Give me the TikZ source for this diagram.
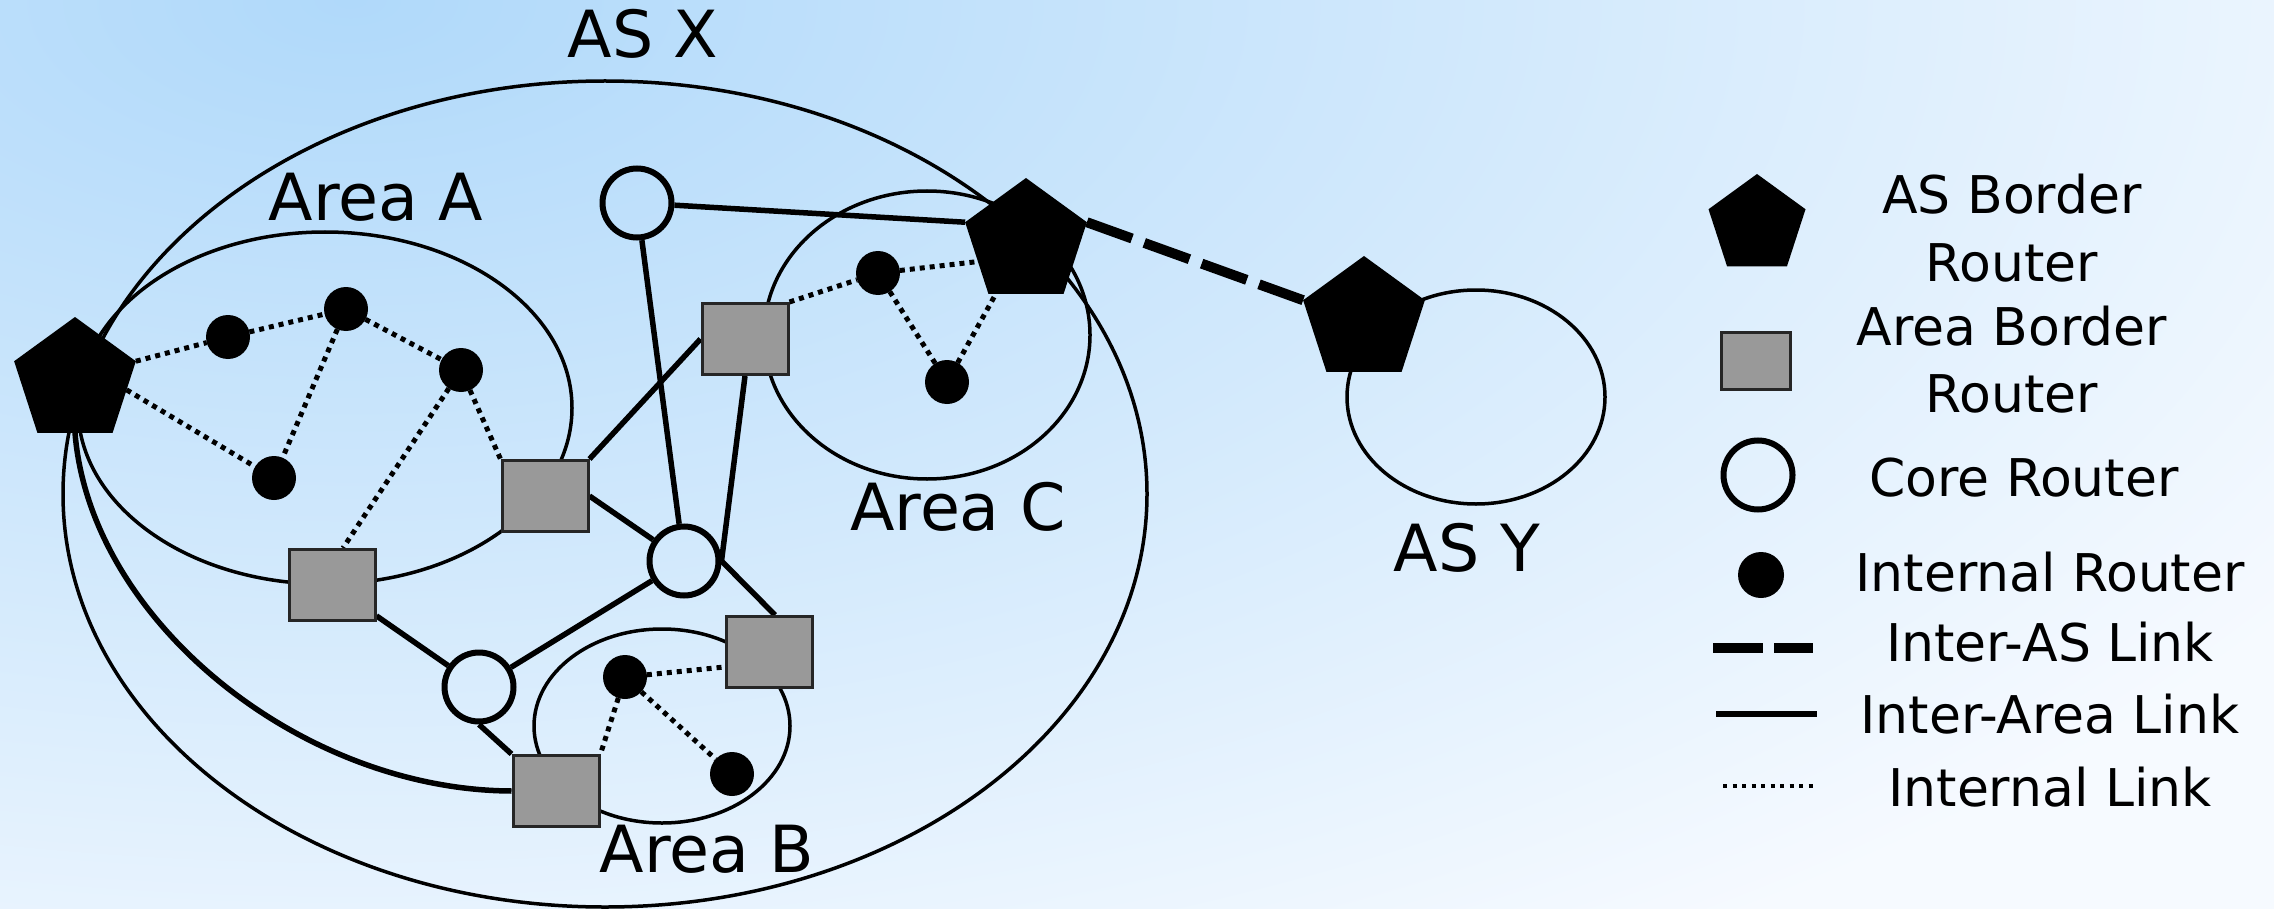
\documentclass[tikz,border=0pt]{standalone}
\usepackage{fontspec}
\setmainfont{DejaVu Sans}
\usetikzlibrary{shapes.geometric,calc}
\pgfdeclarelayer{back}
\pgfdeclarelayer{bg}
\pgfsetlayers{back,bg,main}
\definecolor{bgtop}{RGB}{176,217,250}
\definecolor{bgmid}{RGB}{210,233,252}
\definecolor{bgbot}{RGB}{246,250,255}
\definecolor{abrgray}{RGB}{153,153,153}
\pgfdeclareradialshading{bgrad}{\pgfpoint{0bp}{0bp}}{color(0bp)=(bgtop); color(12.5bp)=(bgmid); color(25bp)=(bgbot); color(50bp)=(bgbot)}
\tikzset{
  asbr/.style={regular polygon, regular polygon sides=5, fill=black, draw=none, inner sep=0pt, outer sep=0pt, minimum size=128pt},
  abr/.style={rectangle, fill=abrgray, draw=black!85, line width=3pt, minimum width=86pt, minimum height=71pt, inner sep=0pt},
  core/.style={circle, draw=black, line width=6pt, minimum size=69pt, inner sep=0pt},
  intr/.style={circle, fill=black, draw=none, minimum size=44pt, inner sep=0pt, outer sep=0pt},
  area/.style={line width=3.5pt, draw=black},
  interarea/.style={line width=5.5pt, draw=black},
  internal/.style={line width=5pt, draw=black, dash pattern=on 5pt off 5pt},
  interas/.style={line width=10pt, draw=black, dash pattern=on 48pt off 13pt},
  lbl/.style={font=\fontsize{65}{78}\selectfont, anchor=base, inner sep=0pt},
  leg/.style={font=\fontsize{52}{67}\selectfont, anchor=base, inner sep=0pt, align=center},
}
\begin{document}
\begin{tikzpicture}[x=1pt,y=-1pt]
\useasboundingbox (0,0) rectangle (2274,909);
\begin{pgfonlayer}{back}
\begin{scope}
\clip (0,0) rectangle (2274,909);
\fill[bgbot] (0,0) rectangle (2274,909);
\shade[shading=bgrad] (350,0) ellipse [x radius=2300pt, y radius=1150pt];
\end{scope}
\end{pgfonlayer}

% routers
\node[asbr] (P1) at (75,381) {};
\node[asbr] (P2) at (1026,242) {};
\node[asbr] (P3) at (1364,320) {};
\node[core] (C1) at (637,203) {};
\node[core] (C2) at (684,561) {};
\node[core] (C3) at (479,687) {};
\node[abr] (S1) at (545,496) {};
\node[abr] (S2) at (332,585) {};
\node[abr] (S3) at (745,339) {};
\node[abr] (S4) at (769,652) {};
\node[abr] (S5) at (556,791) {};
\node[intr] (a1) at (228,337) {};
\node[intr] (a2) at (346,309) {};
\node[intr] (a3) at (461,370) {};
\node[intr] (a4) at (274,478) {};
\node[intr] (c1) at (878,273) {};
\node[intr] (c2) at (947,382) {};
\node[intr] (b1) at (625,677) {};
\node[intr] (b2) at (732,774) {};

% labels
\node[lbl] (lasx) at (643,58) {AS X};
\node[lbl] (larea) at (376,221) {Area A};
\node[lbl] (larec) at (958,530) {Area C};
\node[lbl] (lareb) at (707,872) {Area B};
\node[lbl] (lasy) at (1467,571) {AS Y};

\begin{pgfonlayer}{bg}
\draw[area] (605,494) ellipse [x radius=542pt, y radius=413pt];
\draw[area] (325,408) ellipse [x radius=247pt, y radius=176pt];
\draw[area] (927,335) ellipse [x radius=163pt, y radius=144pt];
\draw[area] (662,726) ellipse [x radius=128pt, y radius=97pt];
\draw[area] (1476,397) ellipse [x radius=129pt, y radius=107pt];

% inter-area links
\draw[interarea] (C1) -- (P2.corner 2);
\draw[interarea] (C1) -- (C2);
\draw[interarea] (S1.north east) -- (S3.west);
\draw[interarea] (S3.south) -- (C2.east);
\draw[interarea] (S1.east) -- (C2);
\draw[interarea] (C2.east) -- ([xshift=6pt]S4.north);
\draw[interarea] (C2) -- (C3);
\draw[interarea] (S2) -- (C3);
\draw[interarea] (C3.south) -- (S5.north west);
\draw[interarea] (P1.south) .. controls (90,620) and (300,790) .. (S5.west);

% internal links
\draw[internal] (P1.corner 5) -- (a1);
\draw[internal] ($(P1.corner 5)!0.4!(P1.corner 4)$) -- (a4);
\draw[internal] (a1) -- (a2);
\draw[internal] (a2) -- (a3);
\draw[internal] (a2) -- (a4);
\draw[internal] (a3) -- (S1.north west);
\draw[internal] (a3) -- ([xshift=11pt]S2.north);
\draw[internal] (S3.north east) -- (c1);
\draw[internal] (c1) -- ($(P2.corner 2)!0.55!(P2.corner 3)$);
\draw[internal] (c1) -- (c2);
\draw[internal] (c2) -- ($(P2.corner 3)!0.1!(P2.corner 4)$);
\draw[internal] (b1) -- ([yshift=-15pt]S4.west);
\draw[internal] (b1) -- (S5.north east);
\draw[internal] (b1) -- (b2);

% inter-AS link
\draw[interas] (P2.corner 5) -- (P3.corner 2);
\end{pgfonlayer}

% legend
\node[asbr, minimum size=102pt] (LP) at (1757,225) {};
\node[abr, minimum width=69pt, minimum height=57pt] (LS) at (1756,361) {};
\node[core] (LC) at (1758,475) {};
\node[intr, minimum size=46pt] (LD) at (1761,575) {};
\coordinate (ea1) at (1713,648);
\coordinate (ea2) at (1813,648);
\coordinate (eb1) at (1716,714);
\coordinate (eb2) at (1817,714);
\coordinate (ec1) at (1723,786);
\coordinate (ec2) at (1813,786);
\draw[line width=10pt, dash pattern=on 50pt off 11pt] (ea1) -- (ea2);
\draw[interarea] (eb1) -- (eb2);
\draw[line width=4pt, dash pattern=on 4pt off 5.5pt] (ec1) -- (ec2);
\node[leg] (t1) at (2012,281) {AS Border\\Router};
\node[leg] (t2) at (2012,412) {Area Border\\Router};
\node[leg] (t3) at (2024,496) {Core Router};
\node[leg] (t4) at (2050,591) {Internal Router};
\node[leg] (t5) at (2050,661) {Inter-AS Link};
\node[leg] (t6) at (2050,733) {Inter-Area Link};
\node[leg] (t7) at (2050,806) {Internal Link};
\end{tikzpicture}
\end{document}
